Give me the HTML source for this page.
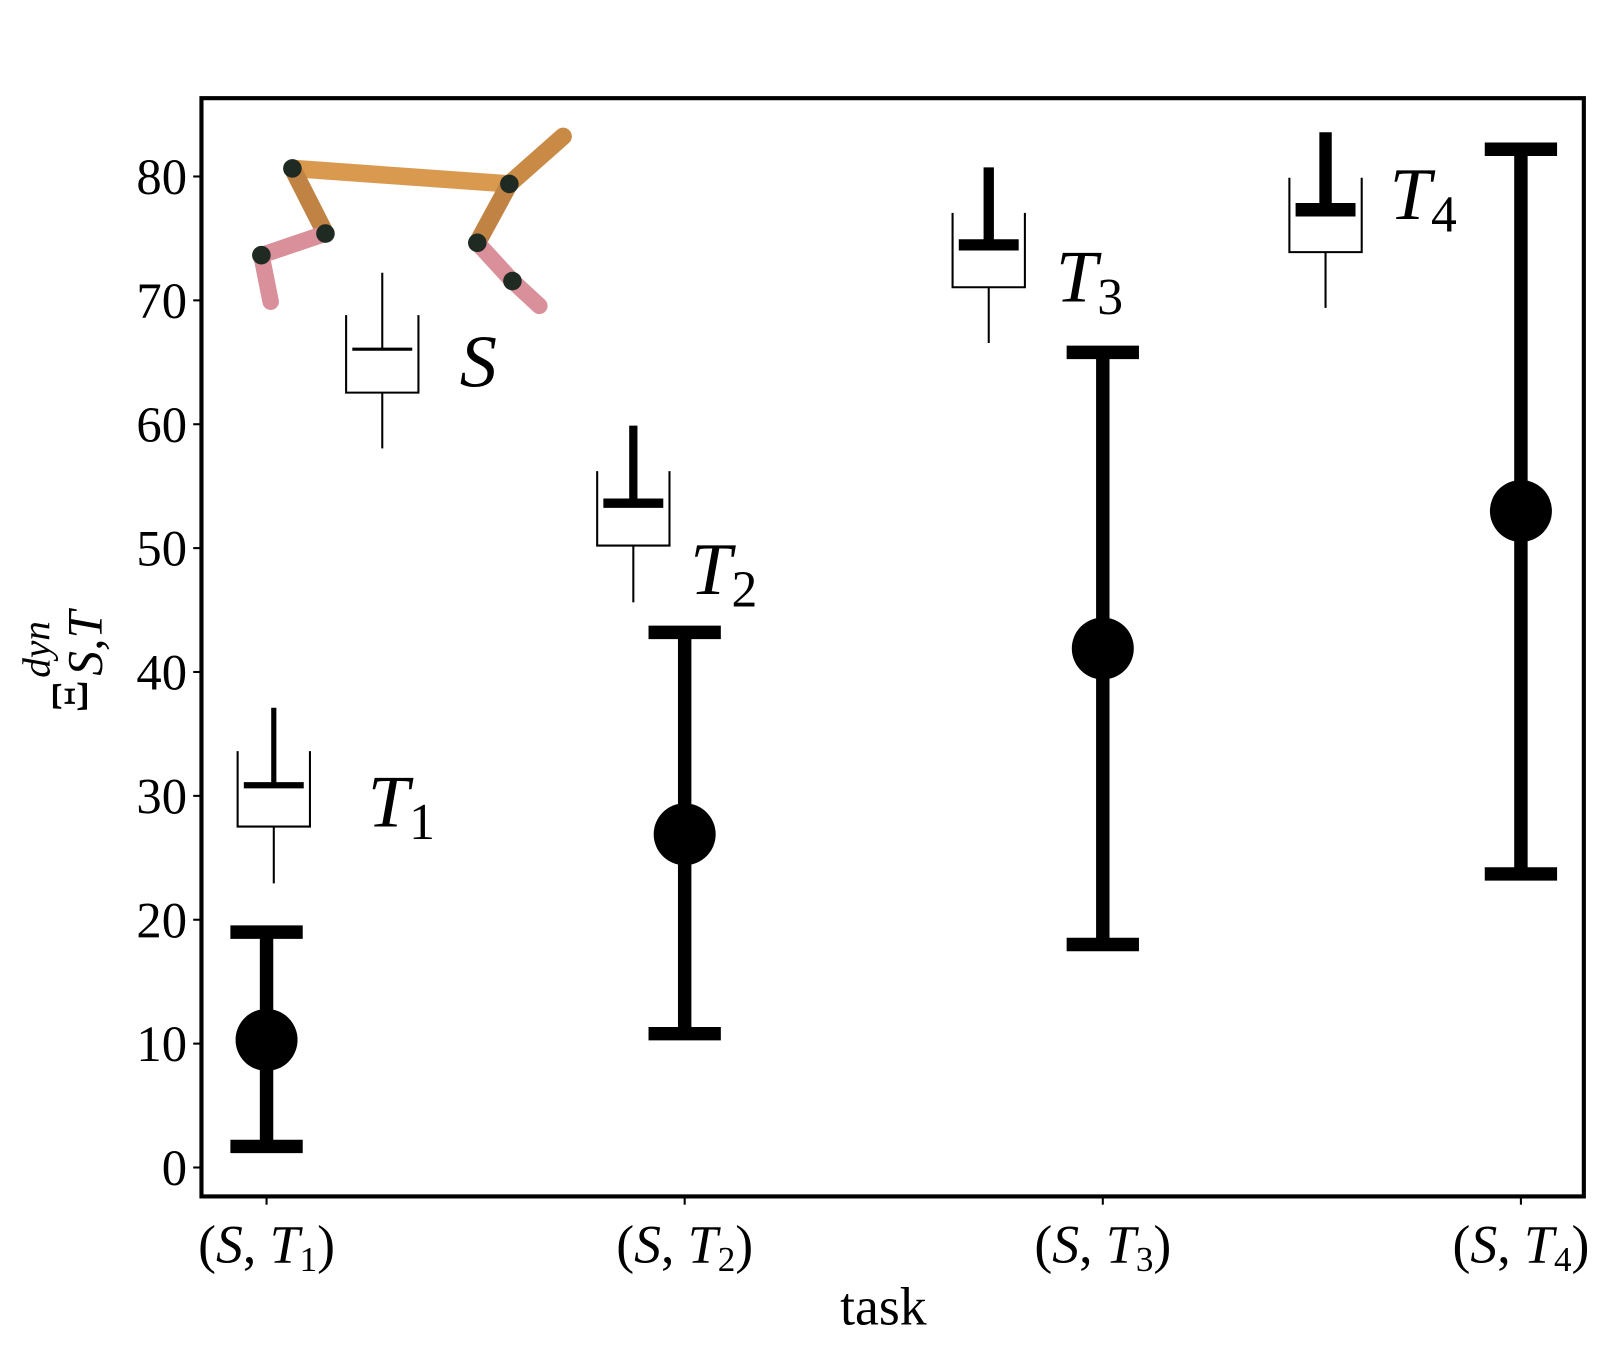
<!DOCTYPE html>
<html><head><meta charset="utf-8">
<style>
html,body{margin:0;padding:0;background:#fff;}
svg{display:block;}
text{font-family:"Liberation Serif","DejaVu Serif",serif;fill:#000;}
</style></head>
<body>
<svg id="chart" width="1620" height="1354" viewBox="0 0 1568 1310.5" xmlns="http://www.w3.org/2000/svg">
  <rect x="0" y="0" width="1568" height="1311" fill="#fff"/>
  <g id="robot" stroke-linecap="round">
    <line x1="283" y1="163" x2="493" y2="178" stroke="#d9994f" stroke-width="17"/>
    <line x1="493" y1="178" x2="545" y2="132" stroke="#c98a45" stroke-width="17"/>
    <line x1="283" y1="163" x2="315" y2="226" stroke="#c08343" stroke-width="17"/>
    <line x1="493" y1="178" x2="462" y2="235" stroke="#c08343" stroke-width="17"/>
    <line x1="315" y1="226" x2="253" y2="247" stroke="#d9909a" stroke-width="16"/>
    <line x1="253" y1="247" x2="262" y2="292" stroke="#d9909a" stroke-width="16"/>
    <line x1="462" y1="235" x2="496" y2="272" stroke="#d9909a" stroke-width="16"/>
    <line x1="496" y1="272" x2="522" y2="296" stroke="#d9909a" stroke-width="16"/>
    <circle cx="283" cy="163" r="9" fill="#1f2a22"/>
    <circle cx="493" cy="178" r="9" fill="#1f2a22"/>
    <circle cx="315" cy="226" r="9" fill="#1f2a22"/>
    <circle cx="253" cy="247" r="9" fill="#1f2a22"/>
    <circle cx="462" cy="235" r="9" fill="#1f2a22"/>
    <circle cx="496" cy="272" r="9" fill="#1f2a22"/>
  </g>
  <g id="icons"></g>
  <g id="marks"></g>
  <g id="axes"></g>
  <text x="855" y="1282" font-size="52" text-anchor="middle">task</text>
  <g transform="translate(84,690) rotate(-90)">
    <text x="0" y="0" font-size="50">Ξ</text>
    <text x="34" y="-36" font-size="38" font-style="italic">dyn</text>
    <text x="36" y="14" font-size="48" font-style="italic">S,T</text>
  </g>
</svg>
<script>
const categories = ["(S, T1)", "(S, T2)", "(S, T3)", "(S, T4)"];
const subscripts = ["1", "2", "3", "4"];
const means = [10.3, 26.9, 41.9, 53.0];
const lows = [1.7, 10.8, 18.0, 23.7];
const highs = [19.0, 43.2, 65.8, 82.2];
const yTicks = [0, 10, 20, 30, 40, 50, 60, 70, 80];

const NS = "http://www.w3.org/2000/svg";
const L = 195, R = 1533, T = 95, B = 1158;
function yScale(v){ return 1130 - v * 11.99; }
function xScale(i){ return 258 + i * 404.7; }
function mk(tag, attrs, parent){
  const e = document.createElementNS(NS, tag);
  for (const k in attrs) e.setAttribute(k, attrs[k]);
  parent.appendChild(e);
  return e;
}
const axes = document.getElementById('axes');
const marks = document.getElementById('marks');
const icons = document.getElementById('icons');

const frame = mk('rect', {x:L, y:T, width:R-L, height:B-T, fill:'none', stroke:'#000', 'stroke-width':4}, axes);



yTicks.forEach(v => {
  const y = yScale(v);
  const t = mk('line', {x1:L-8, y1:y, x2:L, y2:y, stroke:'#000', 'stroke-width':2}, axes);
  
  
  const lb = mk('text', {x:L-14, y:y+17, 'font-size':49, 'text-anchor':'end'}, axes);
  lb.textContent = String(v);
  
  
});

categories.forEach((c, i) => {
  const x = xScale(i);
  const t = mk('line', {x1:x, y1:B, x2:x, y2:B+8, stroke:'#000', 'stroke-width':2}, axes);
  
  
  const lb = mk('text', {x:x, y:B+64, 'font-size':52, 'text-anchor':'middle'}, axes);
  
  
  lb.innerHTML = '(<tspan font-style="italic">S</tspan>, <tspan font-style="italic">T</tspan><tspan font-size="34" dy="8">' + subscripts[i] + '</tspan><tspan dy="-8">)</tspan>';

  const g = mk('g', {}, marks);
  
  
  mk('line', {x1:x, y1:yScale(highs[i]), x2:x, y2:yScale(lows[i]), stroke:'#000', 'stroke-width':13}, g);
  mk('line', {x1:x-35, y1:yScale(highs[i]), x2:x+35, y2:yScale(highs[i]), stroke:'#000', 'stroke-width':13}, g);
  mk('line', {x1:x-35, y1:yScale(lows[i]), x2:x+35, y2:yScale(lows[i]), stroke:'#000', 'stroke-width':13}, g);
  const p = mk('circle', {cx:x, cy:yScale(means[i]), r:30, fill:'#000'}, g);
  
  
});

const iconDefs = [
  {cx:370, top:305, bot:380, pist:338, rt:264, rb:434, th:2, lab:"S", sub:"", lx:445, ly:374},
  {cx:265, top:727, bot:800, pist:760, rt:685, rb:855, th:5, lab:"T", sub:"1", lx:356, ly:800},
  {cx:613, top:456, bot:528, pist:487, rt:412, rb:583, th:8, lab:"T", sub:"2", lx:668, ly:575},
  {cx:957, top:206, bot:278, pist:237, rt:162, rb:332, th:10, lab:"T", sub:"3", lx:1022, ly:292},
  {cx:1283, top:172, bot:244, pist:203, rt:128, rb:298, th:12, lab:"T", sub:"4", lx:1345, ly:212}
];
iconDefs.forEach(d => {
  const g = mk('g', {stroke:'#000', fill:'none'}, icons);
  
  
  mk('polyline', {points:(d.cx-35)+','+d.top+' '+(d.cx-35)+','+d.bot+' '+(d.cx+35)+','+d.bot+' '+(d.cx+35)+','+d.top, 'stroke-width':2}, g);
  mk('line', {x1:d.cx, y1:d.bot, x2:d.cx, y2:d.rb, 'stroke-width':2}, g);
  mk('line', {x1:d.cx, y1:d.rt, x2:d.cx, y2:d.pist, 'stroke-width':Math.max(2, d.th)}, g);
  mk('line', {x1:d.cx-29, y1:d.pist, x2:d.cx+29, y2:d.pist, 'stroke-width':d.th+1}, g);
  const t = mk('text', {x:d.lx, y:d.ly, 'font-size':72, 'font-style':'italic', stroke:'none'}, icons);
  
  
  t.innerHTML = d.lab + (d.sub ? '<tspan font-style="normal" font-size="50" dy="12">' + d.sub + '</tspan>' : '');
});
</script>
</body></html>
